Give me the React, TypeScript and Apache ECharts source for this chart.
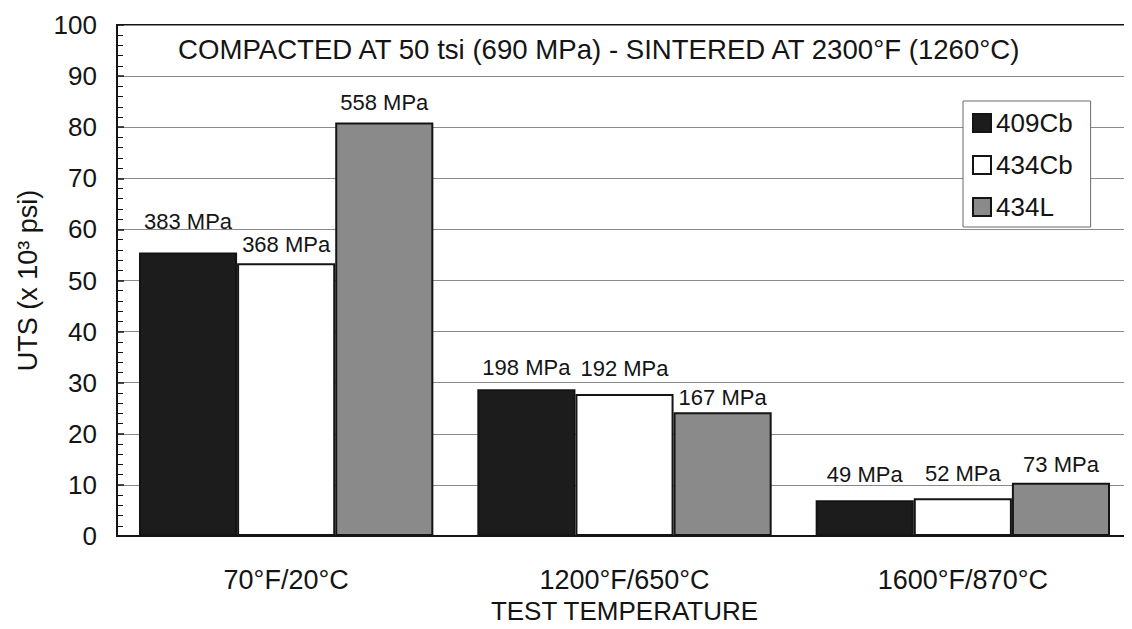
import React, { useEffect, useRef } from "react";
import * as echarts from "echarts";

const categories = ["70°F/20°C", "1200°F/650°C", "1600°F/870°C"];
const seriesNames = ["409Cb", "434Cb", "434L"];
const values409Cb = [55.5, 28.7, 7.0];
const values434Cb = [53.4, 27.8, 7.4];
const values434L = [80.9, 24.2, 10.4];
const mpa409Cb = ["383 MPa", "198 MPa", "49 MPa"];
const mpa434Cb = ["368 MPa", "192 MPa", "52 MPa"];
const mpa434L = ["558 MPa", "167 MPa", "73 MPa"];
const titleText = "COMPACTED AT 50 tsi (690 MPa) - SINTERED AT 2300°F (1260°C)";
const yAxisName = "UTS (x 10³ psi)";
const xAxisName = "TEST TEMPERATURE";

const FONT = "'Liberation Sans', Arial, Helvetica, sans-serif";
const INK = "#141414";

export default function App() {
  const ref = useRef<HTMLDivElement>(null);

  useEffect(() => {
    if (!ref.current) return;
    const chart = echarts.init(ref.current, undefined, { renderer: "svg" });

    // label distances (layout only), per series per category
    const labelDist = [
      [20, 11, 15],
      [8, 14, 14],
      [9, 4, 7],
    ];

    const mk = (idx: number, data: number[], labels: string[], color: string) => ({
      name: seriesNames[idx],
      type: "bar",
      data: data.map((v, i) => ({ value: v, label: { distance: labelDist[idx][i] } })),
      barGap: "0%",
      barCategoryGap: "13%",
      itemStyle: { color, borderColor: INK, borderWidth: 2 },
      label: {
        show: true,
        position: "top",
        color: INK,
        fontSize: 22,
        fontFamily: FONT,
        formatter: (p: any) => labels[p.dataIndex],
      },
    });

    chart.setOption({
      animation: false,
      backgroundColor: "#ffffff",
      textStyle: { fontFamily: FONT },
      grid: {
        left: 117,
        right: -5,
        top: 25,
        bottom: 92,
        show: true,
        borderColor: INK,
        borderWidth: 2,
        backgroundColor: "transparent",
      },
      legend: {
        data: seriesNames,
        orient: "vertical",
        left: 963,
        top: 101,
        icon: "rect",
        itemWidth: 18,
        itemHeight: 18,
        itemGap: 16,
        itemStyle: { borderColor: INK, borderWidth: 2 },
        textStyle: { fontSize: 26, color: INK, fontFamily: FONT, lineHeight: 26 },
        backgroundColor: "#ffffff",
        borderColor: "#6a6a6a",
        borderWidth: 1,
        padding: [9, 18, 7, 9],
      },
      graphic: [
        {
          type: "text",
          left: 178,
          top: 35,
          style: { text: titleText, fontSize: 27.6, fill: INK, fontFamily: FONT },
        },
      ],
      xAxis: {
        type: "category",
        data: categories,
        axisLine: { show: true, lineStyle: { color: INK, width: 2 } },
        axisTick: { show: false },
        axisLabel: { fontSize: 27, color: INK, fontFamily: FONT, margin: 30 },
        name: xAxisName,
        nameLocation: "middle",
        nameGap: 62,
        nameTextStyle: { fontSize: 26, color: INK, fontFamily: FONT },
      },
      yAxis: {
        type: "value",
        min: 0,
        max: 100,
        interval: 10,
        axisLine: { show: true, lineStyle: { color: INK, width: 2 } },
        axisTick: { show: true, inside: true, length: 7, lineStyle: { color: INK, width: 1.5 } },
        minorTick: { show: true, splitNumber: 5, length: 6, lineStyle: { color: INK, width: 1 } },
        axisLabel: { fontSize: 26, color: INK, fontFamily: FONT, margin: 20 },
        splitLine: { show: true, lineStyle: { color: "#8a8a8a", width: 1 } },
        name: yAxisName,
        nameLocation: "middle",
        nameRotate: 90,
        nameGap: 76,
        nameTextStyle: { fontSize: 27, color: INK, fontFamily: FONT },
      },
      series: [
        mk(0, values409Cb, mpa409Cb, "#1c1c1c"),
        mk(1, values434Cb, mpa434Cb, "#ffffff"),
        mk(2, values434L, mpa434L, "#8a8a8a"),
      ],
    });

    return () => chart.dispose();
  }, []);

  return <div ref={ref} style={{ width: 1132, height: 629, margin: -8 }} />;
}
